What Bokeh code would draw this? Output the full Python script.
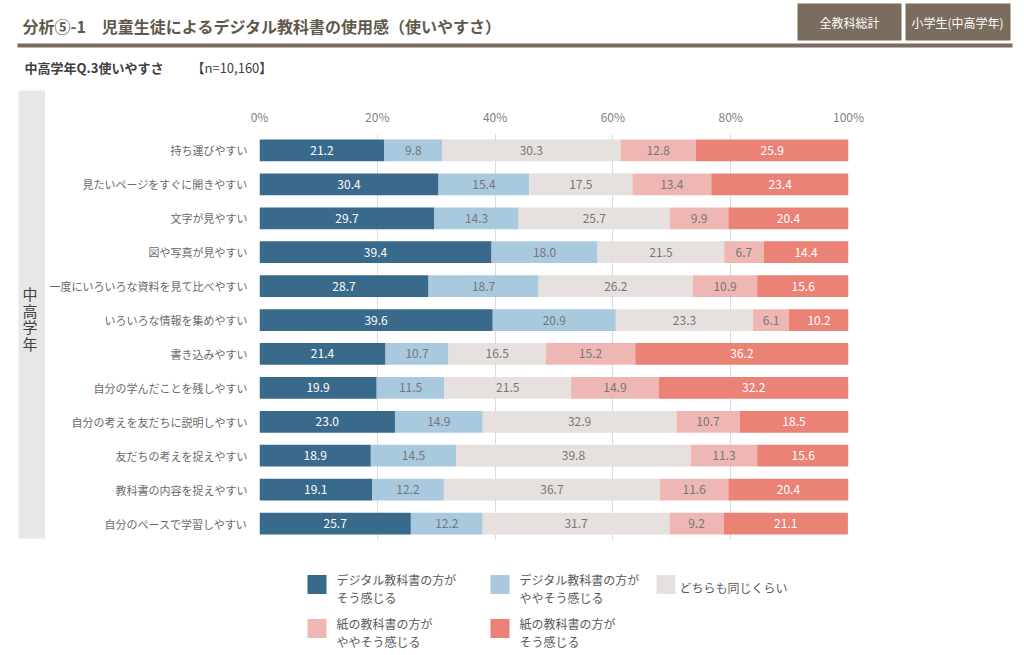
from bokeh.plotting import figure
from bokeh.layouts import column, row
from bokeh.models import ColumnDataSource, Range1d, PrintfTickFormatter, FixedTicker
from bokeh.core.properties import value
from bokeh.embed import file_html
from bokeh.resources import INLINE

# ---------------- data ----------------
categories = [
    "持ち運びやすい",
    "見たいページをすぐに開きやすい",
    "文字が見やすい",
    "図や写真が見やすい",
    "一度にいろいろな資料を見て比べやすい",
    "いろいろな情報を集めやすい",
    "書き込みやすい",
    "自分の学んだことを残しやすい",
    "自分の考えを友だちに説明しやすい",
    "友だちの考えを捉えやすい",
    "教科書の内容を捉えやすい",
    "自分のペースで学習しやすい",
]
digital_strong = [21.2, 30.4, 29.7, 39.4, 28.7, 39.6, 21.4, 19.9, 23.0, 18.9, 19.1, 25.7]
digital_weak = [9.8, 15.4, 14.3, 18.0, 18.7, 20.9, 10.7, 11.5, 14.9, 14.5, 12.2, 12.2]
same = [30.3, 17.5, 25.7, 21.5, 26.2, 23.3, 16.5, 21.5, 32.9, 39.8, 36.7, 31.7]
paper_weak = [12.8, 13.4, 9.9, 6.7, 10.9, 6.1, 15.2, 14.9, 10.7, 11.3, 11.6, 9.2]
paper_strong = [25.9, 23.4, 20.4, 14.4, 15.6, 10.2, 36.2, 32.2, 18.5, 15.6, 20.4, 21.1]

series_values = [digital_strong, digital_weak, same, paper_weak, paper_strong]
series_names = [
    ["デジタル教科書の方が", "そう感じる"],
    ["デジタル教科書の方が", "ややそう感じる"],
    ["どちらも同じくらい"],
    ["紙の教科書の方が", "ややそう感じる"],
    ["紙の教科書の方が", "そう感じる"],
]
x_ticks = [0, 20, 40, 60, 80, 100]

title_text = "分析⑤-1　児童生徒によるデジタル教科書の使用感（使いやすさ）"
subtitle_text = "中高学年Q.3使いやすさ"
n_text = "【n=10,160】"
button_texts = ["全教科総計", "小学生(中高学年)"]
side_label = "中高学年"

# ---------------- styles ----------------
FONT = "Noto Sans CJK JP"
colors = ["#3a6a8b", "#a9c9df", "#e6e1de", "#efb7b4", "#eb8276"]
label_colors = ["#ffffff", "#767676", "#767676", "#767676", "#ffffff"]
BROWN = "#7a6d5e"

W, H = 1024, 655
HEADER_H = 84          # header strip: page y 0..84
MID_BOTTOM = 548       # chart strip: page y 84..548, legend strip below
SIDE_W = 45


def canvas_fig(w, y0, y1, x0=0):
    """A decoration strip whose data coordinates equal page pixels."""
    f = figure(width=w, height=y1 - y0, x_range=Range1d(x0, x0 + w),
               y_range=Range1d(y1, y0), output_backend="svg",
               toolbar_location=None, x_axis_type=None, y_axis_type=None,
               min_border=0)
    f.outline_line_color = None
    f.background_fill_color = "white"
    f.border_fill_color = "white"
    f.frame_align = False
    return f


def txt(f, x, y, s, size="12px", color="#595959", bold=False, align="left"):
    f.text(x=[x], y=[y], text=[s], text_font=value(FONT), text_font_size=size,
           text_color=color, text_font_style="bold" if bold else "normal",
           text_align=align, text_baseline="middle")


def rect(f, l, r, t, b, color):
    f.quad(left=[l], right=[r], top=[t], bottom=[b], fill_color=color,
           line_color=None)


# ---------------- header strip ----------------
hdr = canvas_fig(W, 0, HEADER_H)
txt(hdr, 22, 25, title_text, size="16px", color="#62574b", bold=True)
rect(hdr, 17, 1012, 43, 47, BROWN)
rect(hdr, 797, 901, 3, 40, BROWN)
rect(hdr, 905, 1010, 3, 40, BROWN)
txt(hdr, 849, 22, button_texts[0], size="12px", color="white", align="center")
txt(hdr, 957, 22, button_texts[1], size="12px", color="white", align="center")
txt(hdr, 24, 67, subtitle_text, size="13px", color="#404040", bold=True)
txt(hdr, 191, 67, n_text, size="13px", color="#404040")

# ---------------- side strip ----------------
side = canvas_fig(SIDE_W, HEADER_H, MID_BOTTOM)
rect(side, 18, 45, 90, 538, "#e7e7e7")
for i, ch in enumerate(side_label):
    txt(side, 29.5, 293 + i * 16.5, ch, size="15px", color="#404040", align="center")

# ---------------- main chart ----------------
rows = list(range(len(categories)))  # row 0 at the top
p = figure(width=W - SIDE_W, height=MID_BOTTOM - HEADER_H,
           output_backend="svg", toolbar_location=None,
           x_range=Range1d(0, 100),
           y_range=Range1d(len(categories) - 0.5, -0.5),
           x_axis_location="above",
           min_border_left=259 - SIDE_W, min_border_right=W - 848,
           min_border_top=133 - HEADER_H, min_border_bottom=MID_BOTTOM - 540)
p.outline_line_color = None
p.background_fill_color = "white"
p.border_fill_color = "white"
p.frame_align = False

lefts = [0.0] * len(categories)
for vals, col, tcol in zip(series_values, colors, label_colors):
    rights = [l + v for l, v in zip(lefts, vals)]
    src = ColumnDataSource(dict(
        row=rows, left=lefts, right=rights,
        mid=[(l + r) / 2 for l, r in zip(lefts, rights)],
        txt=["%.1f" % v for v in vals]))
    p.hbar(y="row", left="left", right="right", height=0.64, source=src,
           fill_color=col, line_color=None)
    p.text(x="mid", y="row", text="txt", source=src, text_align="center",
           text_baseline="middle", text_font=value(FONT), text_font_size="12px",
           text_color=tcol)
    lefts = rights

p.xaxis.ticker = FixedTicker(ticks=x_ticks)
p.xaxis.formatter = PrintfTickFormatter(format="%d%%")
p.xaxis.axis_line_color = None
p.xaxis.major_tick_line_color = None
p.xaxis.minor_tick_line_color = None
p.xaxis.major_tick_out = 0
p.xaxis.major_tick_in = 0
p.xaxis.minor_tick_out = 0
p.xaxis.minor_tick_in = 0
p.xaxis.major_label_standoff = 9
p.xaxis.major_label_text_font = FONT
p.xaxis.major_label_text_font_size = "12px"
p.xaxis.major_label_text_color = "#7f7f7f"

p.yaxis.ticker = FixedTicker(ticks=rows)
p.yaxis.major_label_overrides = {i: c for i, c in zip(rows, categories)}
p.yaxis.axis_line_color = None
p.yaxis.major_tick_line_color = None
p.yaxis.minor_tick_line_color = None
p.yaxis.major_tick_out = 0
p.yaxis.major_tick_in = 0
p.yaxis.minor_tick_out = 0
p.yaxis.minor_tick_in = 0
p.yaxis.major_label_standoff = 12
p.yaxis.major_label_text_font = FONT
p.yaxis.major_label_text_font_size = "11px"
p.yaxis.major_label_text_color = "#6a6a6a"

p.xgrid.ticker = FixedTicker(ticks=x_ticks)
p.xgrid.grid_line_color = "#dcdcdc"
p.ygrid.grid_line_color = None

# ---------------- legend strip ----------------
leg = canvas_fig(W, MID_BOTTOM, H)
legend_pos = [(307, 584, 336), (490, 584, 519), (656, 584, 679),
              (307, 628, 336), (490, 628, 519)]
for (sx, cy, tx), col, lines in zip(legend_pos, colors, series_names):
    rect(leg, sx, sx + 19, cy - 9.5, cy + 9.5, col)
    if len(lines) == 1:
        txt(leg, tx, cy + 3, lines[0], size="12px")
    else:
        txt(leg, tx, cy - 5, lines[0], size="12px")
        txt(leg, tx, cy + 13, lines[1], size="12px")

layout = column(hdr, row(side, p, spacing=0), leg, spacing=0)
open("out.html", "w").write(file_html(layout, INLINE))
